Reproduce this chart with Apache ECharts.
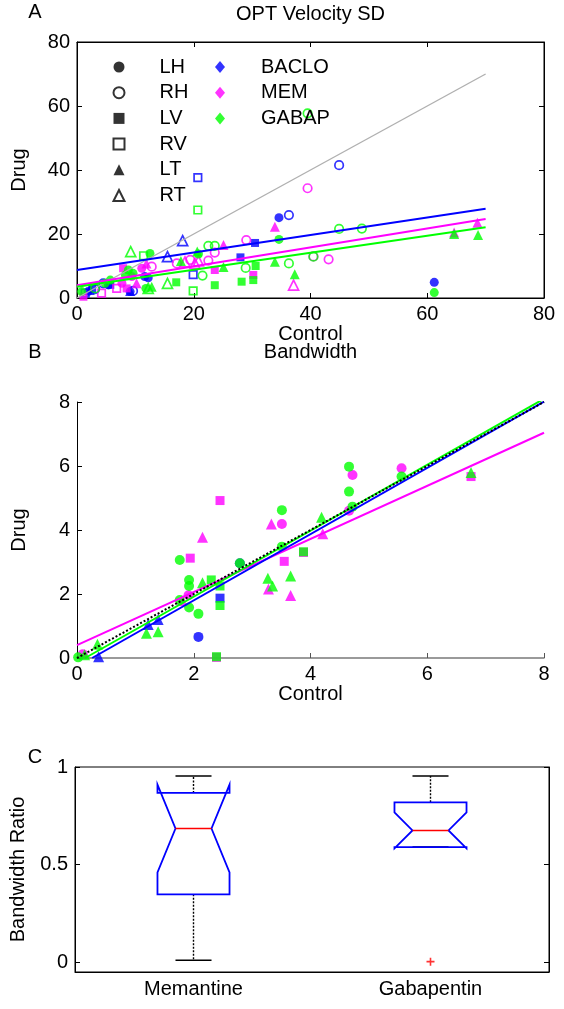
<!DOCTYPE html>
<html><head><meta charset="utf-8">
<script src="https://cdn.jsdelivr.net/npm/echarts@6/dist/echarts.min.js"></script>
<style>html,body{margin:0;padding:0;background:#fff}#c{width:564px;height:1009px}</style>
</head><body><div id="c"></div>
<script>
const FONT = '"Liberation Sans", Arial, sans-serif';
const BLUE = '#0000ff', MAG = '#ff00ff', GRN = '#00ff00';

// ---------- Panel A: OPT Velocity SD (x = Control, y = Drug) ----------
const A_BACLO_LH = [[1.9,2.0],[5.4,4.1],[9.1,2.0],[11.6,6.7],[12.2,6.3],[34.6,25.1],[61.2,4.9]];
const A_BACLO_RH = [[3.1,2.8],[36.3,25.9],[44.9,41.5],[9.6,2.2],[4.5,4.6]];
const A_BACLO_LV = [[30.5,17.2],[28.0,12.7],[2.6,2.8],[5.7,4.1]];
const A_BACLO_RV = [[20.7,37.6],[19.9,7.3],[1.4,1.5]];
const A_BACLO_LT = [[9.1,2.2],[2.2,2.5]];
const A_BACLO_RT = [[18.1,17.9],[15.5,12.9]];

const A_MEM_LH = [[9.4,6.7],[11.1,9.3],[7.7,4.6]];
const A_MEM_RH = [[39.5,34.3],[29.0,18.1],[40.5,13.0],[43.1,12.1],[23.6,14.2],[22.5,11.7],[19.4,11.9],[17.1,10.8],[12.8,9.8]];
const A_MEM_LV = [[30.2,7.2],[23.6,8.75],[7.9,9.3],[1.1,0.4],[8.5,3.0]];
const A_MEM_RV = [[4.2,1.5],[6.8,3.0]];
const A_MEM_LT = [[33.9,22.3],[64.6,20.5],[68.6,23.5],[25.1,16.6],[11.9,10.8],[10.2,4.6]];
const A_MEM_RT = [[37.1,4.0],[20.8,11.6],[18.5,11.3],[20.2,10.8]];

const A_GAB_LH = [[61.2,1.7],[34.6,18.3],[20.8,13.75],[12.5,13.9],[8.8,8.75],[9.6,7.7],[8.3,7.2],[5.7,5.6],[4.8,4.6],[11.8,3.0],[0.8,2.0]];
const A_GAB_RH = [[39.5,57.7],[44.9,21.6],[48.8,21.7],[40.5,12.9],[36.3,10.8],[28.9,9.4],[21.5,7.0],[22.5,16.3],[23.6,16.3],[3.1,3.0]];
const A_GAB_LV = [[30.6,10.0],[30.2,5.6],[28.2,5.1],[23.6,4.0],[17.0,4.9]];
const A_GAB_RV = [[20.7,27.5],[19.9,2.2],[11.4,13.2]];
const A_GAB_LT = [[68.7,19.7],[64.6,20.0],[33.9,11.3],[37.3,7.4],[25.1,9.7],[20.6,14.5],[17.8,11.6],[12.8,3.5]];
const A_GAB_RT = [[9.2,14.5],[15.5,4.6],[12.2,3.0]];

const A_IDENTITY = [[0,0],[70,70]];
const A_FIT_BACLO = [[0,8.75],[70,27.9]];
const A_FIT_MEM = [[0,4.0],[70,24.7]];
const A_FIT_GAB = [[0,3.5],[70,22.1]];

// ---------- Panel B: Bandwidth ----------
const B_BACLO_LH = [[2.08,0.66],[2.79,2.96]];
const B_BACLO_LV = [[2.45,1.87]];
const B_BACLO_LT = [[0.37,0.04],[1.22,1.05],[1.39,1.2]];

const B_MEM_LH = [[0.1,0.12],[1.91,1.96],[3.51,4.19],[4.72,5.72],[4.66,4.6],[5.56,5.93]];
const B_MEM_LV = [[2.45,4.92],[1.94,3.12],[3.55,3.02],[3.88,3.3],[6.75,5.67],[2.39,0.02]];
const B_MEM_LT = [[2.15,3.77],[3.33,4.19],[3.28,2.16],[3.66,1.95],[4.21,3.88],[1.8,1.8]];

const B_GAB_LH = [[0.02,0.02],[3.51,4.62],[1.76,3.06],[1.92,2.44],[1.92,2.25],[1.92,1.58],[2.08,1.38],[2.79,2.96],[4.66,5.98],[4.66,5.2],[4.72,4.73],[5.56,5.67],[3.51,3.48],[1.76,1.81]];
const B_GAB_LV = [[3.88,3.32],[2.30,2.44],[2.45,2.25],[2.45,1.64],[2.39,0.04]];
const B_GAB_LT = [[4.19,4.4],[2.15,2.35],[3.27,2.49],[3.35,2.25],[3.66,2.56],[1.19,0.77],[1.39,0.82],[0.35,0.43],[0.13,0.1],[6.75,5.8]];

const B_IDENTITY = [[0,0],[8,8]];
const B_FIT_BACLO = [[0.26,0],[8,8.01]];
const B_FIT_MEM = [[0,0.4],[8,7.04]];
const B_FIT_GAB = [[0.14,0],[8,8.1]];

// ---------- Panel C: Bandwidth Ratio box plot ----------
const C_CATEGORIES = ['Memantine','Gabapentin'];
// [whiskerLow, Q1, notchLow, median, notchHigh, Q3, whiskerHigh]
const C_MEMANTINE = [0.01, 0.348, 0.46, 0.685, 0.91, 0.867, 0.954];
const C_GABAPENTIN = [0.59, 0.59, 0.583, 0.675, 0.767, 0.819, 0.954];
const C_OUTLIERS = [['Gabapentin', 0.003]];
const C_TICKS = [0, 0.5, 1];

const SYM = {LH:'circle', RH:'circle', LV:'rect', RV:'rect', LT:'triangle', RT:'triangle'};
const OPEN = {LH:false, RH:true, LV:false, RV:true, LT:false, RT:true};

function scat(data, grid, color, shape, sizes) {
  const open = OPEN[shape];
  return {
    type:'scatter', xAxisIndex: grid.x, yAxisIndex: grid.y, data,
    symbol: SYM[shape], symbolSize: sizes[shape], silent:true,
    itemStyle: open ? {color:'rgba(0,0,0,0)', borderColor: color, borderWidth: 1.7} : {color},
    emphasis:{disabled:true}
  };
}
function line(data, grid, color, width, type) {
  return {type:'line', xAxisIndex:grid.x, yAxisIndex:grid.y, data, symbol:'none', silent:true,
    lineStyle:{color, width, type: type || 'solid'}, z:3};
}

const GA = {x:0, y:0}, GB = {x:2, y:2};
const SA = {LH:9, RH:8.5, LV:8, RV:7.5, LT:10, RT:10};
const SB = {LH:10, LV:9, LT:11};

const series = [];
// legend entries (empty series that only feed the legend)
['LH','RH','LV','RV','LT','RT'].forEach(s => {
  const open = OPEN[s];
  series.push({type:'scatter', name:s, xAxisIndex:0, yAxisIndex:0, data:[], symbol:SYM[s], symbolSize:11,
    itemStyle: open ? {color:'rgba(0,0,0,0)', borderColor:'#000', borderWidth:1.8} : {color:'#000'}});
});
[['BACLO',BLUE],['MEM',MAG],['GABAP',GRN]].forEach(([n,c]) => {
  series.push({type:'scatter', name:n, xAxisIndex:0, yAxisIndex:0, data:[], symbol:'diamond', symbolSize:[10,12], itemStyle:{color:c}});
});

// Panel A points
const A_SETS = [
  [BLUE, {LH:A_BACLO_LH, RH:A_BACLO_RH, LV:A_BACLO_LV, RV:A_BACLO_RV, LT:A_BACLO_LT, RT:A_BACLO_RT}],
  [MAG, {LH:A_MEM_LH, RH:A_MEM_RH, LV:A_MEM_LV, RV:A_MEM_RV, LT:A_MEM_LT, RT:A_MEM_RT}],
  [GRN, {LH:A_GAB_LH, RH:A_GAB_RH, LV:A_GAB_LV, RV:A_GAB_RV, LT:A_GAB_LT, RT:A_GAB_RT}]
];
A_SETS.forEach(([c, sets]) => Object.keys(sets).forEach(k => series.push(scat(sets[k], GA, c, k, SA))));
series.push(line(A_IDENTITY, GA, '#b0b0b0', 1.4));
series.push(line(A_FIT_BACLO, GA, BLUE, 2));
series.push(line(A_FIT_MEM, GA, MAG, 2));
series.push(line(A_FIT_GAB, GA, GRN, 2));

// Panel B points
const B_SETS = [
  [BLUE, {LH:B_BACLO_LH, LV:B_BACLO_LV, LT:B_BACLO_LT}],
  [MAG, {LH:B_MEM_LH, LV:B_MEM_LV, LT:B_MEM_LT}],
  [GRN, {LH:B_GAB_LH, LV:B_GAB_LV, LT:B_GAB_LT}]
];
B_SETS.forEach(([c, sets]) => Object.keys(sets).forEach(k => series.push(scat(sets[k], GB, c, k, SB))));
series.push(line(B_FIT_MEM, GB, MAG, 2));
series.push(line(B_FIT_BACLO, GB, BLUE, 2));
series.push(line(B_FIT_GAB, GB, GRN, 2));
series.push(line(B_IDENTITY, GB, '#000', 2, 'dotted'));

// Panel C box plot
function renderBox(params, api) {
  const idx = api.value(0);
  const wLo = api.value(1), q1 = api.value(2), nLo = api.value(3), med = api.value(4),
        nHi = api.value(5), q3 = api.value(6), wHi = api.value(7);
  const cx = api.coord([idx, med])[0];
  const y = v => api.coord([idx, v])[1];
  const band = api.size([1, 0])[0];
  const hw = band * 0.152, nw = hw / 2;
  const kids = [];
  const dash = {stroke:'#000', lineWidth:1.4, lineDash:[2,1.5]};
  const solid = {stroke:'#000', lineWidth:1.6};
  kids.push({type:'line', shape:{x1:cx, y1:y(q3), x2:cx, y2:y(wHi)}, style:dash});
  kids.push({type:'line', shape:{x1:cx, y1:y(q1), x2:cx, y2:y(wLo)}, style:dash});
  kids.push({type:'line', shape:{x1:cx-nw, y1:y(wHi), x2:cx+nw, y2:y(wHi)}, style:solid});
  kids.push({type:'line', shape:{x1:cx-nw, y1:y(wLo), x2:cx+nw, y2:y(wLo)}, style:solid});
  const pts = [
    [cx-hw, y(q1)], [cx-hw, y(nLo)], [cx-nw, y(med)], [cx-hw, y(nHi)], [cx-hw, y(q3)],
    [cx+hw, y(q3)], [cx+hw, y(nHi)], [cx+nw, y(med)], [cx+hw, y(nLo)], [cx+hw, y(q1)]
  ];
  kids.push({type:'polygon', shape:{points:pts}, style:{fill:'none', stroke:BLUE, lineWidth:1.8, lineJoin:'miter'}});
  kids.push({type:'line', shape:{x1:cx-nw, y1:y(med), x2:cx+nw, y2:y(med)}, style:{stroke:'#ff0000', lineWidth:1.6}});
  return {type:'group', children:kids};
}
series.push({
  type:'custom', xAxisIndex:3, yAxisIndex:3, renderItem: renderBox, silent:true,
  encode:{x:0, y:[1,2,3,4,5,6,7]},
  data: [[0].concat(C_MEMANTINE), [1].concat(C_GABAPENTIN)]
});
series.push({
  type:'scatter', xAxisIndex:3, yAxisIndex:3, data:C_OUTLIERS, silent:true,
  symbol:'path://M4,0H6V4H10V6H6V10H4V6H0V4H4Z', symbolSize:8, itemStyle:{color:'#ff0000'}
});

const lbl = {color:'#000', fontFamily:FONT, fontSize:20};
const tick = {show:true, inside:true, length:5, lineStyle:{color:'#000', width:1}};
const blackLine = {show:true, onZero:false, lineStyle:{color:'#000', width:1}};

const option = {
  animation:false,
  backgroundColor:'#fff',
  textStyle:{fontFamily:FONT},
  grid:[
    {left:77, right:20, top:42, height:256, show:true, borderColor:'#000', borderWidth:1},
    {left:77, right:20, top:402, height:256},
    {left:74, right:15, top:767, height:205, show:true, borderColor:'#000', borderWidth:1}
  ],
  legend:[
    {data:[{name:'LH'},{name:'RH'},{name:'LV'},{name:'RV'},{name:'LT'},{name:'RT'}],
     orient:'vertical', left:112.5, top:56.5, padding:0, itemWidth:11, itemHeight:11, itemGap:4.7,
     selectedMode:false, textStyle:{fontSize:20, lineHeight:21, color:'#000', fontFamily:FONT, padding:[0,0,0,30]}},
    {data:[{name:'BACLO'},{name:'MEM'},{name:'GABAP'}],
     orient:'vertical', left:215, top:56.5, padding:0, itemWidth:10, itemHeight:12, itemGap:4.7,
     selectedMode:false, textStyle:{fontSize:20, lineHeight:21, color:'#000', fontFamily:FONT, padding:[0,0,0,31]}}
  ],
  xAxis:[
    {gridIndex:0, type:'value', min:0, max:80, interval:20, position:'bottom',
     axisLine:blackLine, axisTick:tick, splitLine:{show:false},
     axisLabel:Object.assign({margin:6}, lbl),
     name:'Control', nameLocation:'middle', nameGap:24, nameTextStyle:lbl},
    {gridIndex:0, type:'value', min:0, max:80, interval:20, position:'top',
     axisLine:blackLine, axisTick:tick, splitLine:{show:false}, axisLabel:{show:false}},
    {gridIndex:1, type:'value', min:0, max:8, interval:2, position:'bottom',
     axisLine:{show:true, onZero:false, lineStyle:{color:'#7a7a7a', width:1.5}},
     axisTick:{show:true, inside:true, length:5, lineStyle:{color:'#555', width:1}}, splitLine:{show:false},
     axisLabel:Object.assign({margin:6}, lbl),
     name:'Control', nameLocation:'middle', nameGap:25, nameTextStyle:lbl},
    {gridIndex:2, type:'category', data:C_CATEGORIES, boundaryGap:true,
     axisLine:blackLine, axisTick:{show:false}, splitLine:{show:false},
     axisLabel:Object.assign({margin:7}, lbl)}
  ],
  yAxis:[
    {gridIndex:0, type:'value', min:0, max:80, interval:20, position:'left',
     axisLine:blackLine, axisTick:tick, splitLine:{show:false},
     axisLabel:Object.assign({margin:7}, lbl),
     name:'Drug', nameLocation:'middle', nameGap:48, nameTextStyle:lbl},
    {gridIndex:0, type:'value', min:0, max:80, interval:20, position:'right',
     axisLine:blackLine, axisTick:tick, splitLine:{show:false}, axisLabel:{show:false}},
    {gridIndex:1, type:'value', min:0, max:8, interval:2, position:'left',
     axisLine:blackLine, axisTick:tick, splitLine:{show:false},
     axisLabel:Object.assign({margin:7}, lbl),
     name:'Drug', nameLocation:'middle', nameGap:48, nameTextStyle:lbl},
    {gridIndex:2, type:'value', min:-0.05, max:1, position:'left',
     axisLine:blackLine, splitLine:{show:false},
     axisTick:Object.assign({customValues:C_TICKS}, tick),
     axisLabel:Object.assign({margin:7, customValues:C_TICKS, formatter:v => String(+v.toFixed(2))}, lbl),
     name:'Bandwidth Ratio', nameLocation:'middle', nameGap:47, nameTextStyle:lbl},
    {gridIndex:2, type:'value', min:-0.05, max:1, position:'right',
     axisLine:blackLine, splitLine:{show:false},
     axisTick:Object.assign({customValues:C_TICKS}, tick), axisLabel:{show:false}}
  ],
  graphic:[
    {type:'text', x:310.5, y:14, style:{text:'OPT Velocity SD', font:'20px ' + FONT, fill:'#000', textAlign:'center', textVerticalAlign:'middle'}},
    {type:'text', x:310.5, y:352, style:{text:'Bandwidth', font:'20px ' + FONT, fill:'#000', textAlign:'center', textVerticalAlign:'middle'}},
    {type:'text', x:35, y:12, style:{text:'A', font:'20px ' + FONT, fill:'#000', textAlign:'center', textVerticalAlign:'middle'}},
    {type:'text', x:35, y:352, style:{text:'B', font:'20px ' + FONT, fill:'#000', textAlign:'center', textVerticalAlign:'middle'}},
    {type:'text', x:35, y:757, style:{text:'C', font:'20px ' + FONT, fill:'#000', textAlign:'center', textVerticalAlign:'middle'}}
  ],
  series
};
const chart = echarts.init(document.getElementById('c'), null, {renderer:'canvas'});
chart.setOption(option);
</script></body></html>
